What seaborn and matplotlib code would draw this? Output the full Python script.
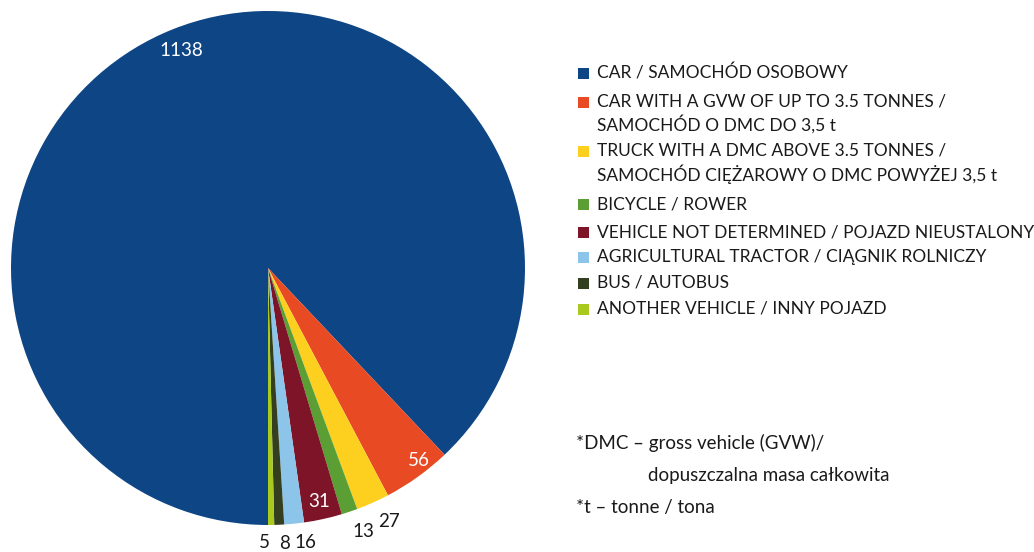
import matplotlib
matplotlib.use("Agg")
import matplotlib.pyplot as plt
from matplotlib.patches import Rectangle
import numpy as np
import seaborn as sns

# Vehicle categories and counts
categories = [
    "CAR / SAMOCHÓD OSOBOWY",
    "CAR WITH A GVW OF UP TO 3.5 TONNES /\nSAMOCHÓD O DMC DO 3,5 t",
    "TRUCK WITH A DMC ABOVE 3.5 TONNES /\nSAMOCHÓD CIĘŻAROWY O DMC POWYŻEJ 3,5 t",
    "BICYCLE / ROWER",
    "VEHICLE NOT DETERMINED / POJAZD NIEUSTALONY",
    "AGRICULTURAL TRACTOR / CIĄGNIK ROLNICZY",
    "BUS / AUTOBUS",
    "ANOTHER VEHICLE / INNY POJAZD",
]
counts = [1138, 56, 27, 13, 31, 16, 8, 5]
colors = ["#0D4585", "#E84B24", "#FDD01F", "#5A9E34",
          "#7D1427", "#8DC4EA", "#333F1E", "#A9C91F"]
# labels drawn inside the wedge (white) vs. outside (dark)
inside = [True, True, False, False, True, False, False, False]

footnotes = ["*DMC – gross vehicle (GVW)/",
             "dopuszczalna masa całkowita",
             "*t – tonne / tona"]

sns.set_theme(style="white")
FONT = ["Lato", "DejaVu Sans"]
plt.rcParams["font.family"] = FONT

W, H = 1034, 552
fig = plt.figure(figsize=(W / 100, H / 100), dpi=100)
fig.patch.set_facecolor("white")

cx, cy, r = 268, 268, 257
ax = fig.add_axes([(cx - r) / W, (H - cy - r) / H, 2 * r / W, 2 * r / H])

wedges, _ = ax.pie(counts, colors=colors, startangle=-90, counterclock=False,
                   radius=1.0, wedgeprops=dict(linewidth=0))
ax.set_xlim(-1, 1)
ax.set_ylim(-1, 1)
ax.set_aspect("equal")
ax.axis("off")

label_r_in = [0.91, 0.95, 1.0, 1.0, 0.93, 1.0, 1.0, 1.0]
label_r_out = [1.0, 1.0, 1.095, 1.09, 1.0, 1.08, 1.075, 1.07]
angle_shift = [0, 2.5, 1.5, 1.5, 0, 2.0, 1.0, -1.5]
for i, (w, v) in enumerate(zip(wedges, counts)):
    mid = np.deg2rad((w.theta1 + w.theta2) / 2 + angle_shift[i])
    if inside[i]:
        rr = label_r_in[i]
        col = "white"
    else:
        rr = label_r_out[i]
        col = "#1a1a1a"
    ax.text(rr * np.cos(mid), rr * np.sin(mid), f"{v}", ha="center", va="center",
            fontsize=13.5, color=col, clip_on=False)

# Legend drawn in figure pixel coordinates
def fy(y):
    return 1 - y / H

row_y = [[73], [102, 124], [151, 174], [204], [232], [257], [283], [309]]
sq = 11
for cat, col, ys in zip(categories, colors, row_y):
    fig.patches.append(Rectangle((578 / W, fy(ys[0] + sq / 2 + 0.5)), sq / W, sq / H,
                                 transform=fig.transFigure, facecolor=col,
                                 edgecolor="none"))
    for line, y in zip(cat.split("\n"), ys):
        fig.text(597 / W, fy(y), line, ha="left", va="center",
                 fontsize=12.5, color="#1a1a1a")

fig.text(576 / W, fy(443), footnotes[0], ha="left", va="center", fontsize=13.5, color="#1a1a1a")
fig.text(648 / W, fy(475), footnotes[1], ha="left", va="center", fontsize=13.5, color="#1a1a1a")
fig.text(576 / W, fy(507), footnotes[2], ha="left", va="center", fontsize=13.5, color="#1a1a1a")

fig.savefig("out.png", dpi=100, facecolor="white")
